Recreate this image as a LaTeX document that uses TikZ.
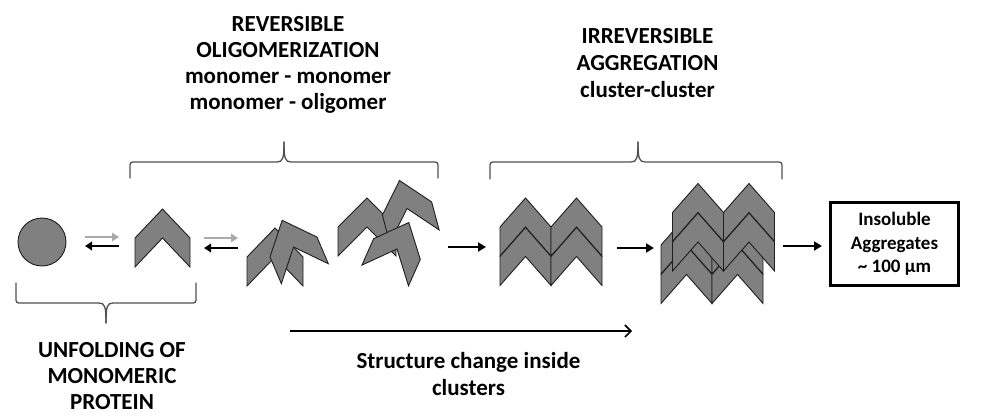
\documentclass[tikz,border=0pt]{standalone}
\usepackage{fontspec}
\setmainfont{Carlito}
\usetikzlibrary{arrows.meta}
\definecolor{shapegray}{RGB}{128,128,128}
\definecolor{edgegray}{RGB}{30,30,30}
\definecolor{bracegray}{RGB}{80,80,80}
\definecolor{lightarrow}{RGB}{170,170,170}
\newcommand\mychev[4]{\filldraw[chevbox, shift={(#1,#2)}, rotate=#3] (-#4,0) -- (0,-29) -- (#4,0) -- (#4,29) -- (0,0) -- (-#4,29) -- cycle;}
\begin{document}
\begin{tikzpicture}[x=1pt,y=-1pt,
  chevbox/.style={fill=shapegray, draw=edgegray, line width=0.9pt, line join=miter},
  bracestyle/.style={draw=bracegray, line width=1.3pt, line cap=round, line join=round},
  fwd/.style={line width=2.6pt, -{Triangle[length=8pt,width=9pt]}},
  eqfwd/.style={line width=2.6pt, draw=lightarrow, -{Triangle[length=7pt,width=8.5pt]}},
  eqback/.style={line width=2.6pt, draw=black, -{Triangle[length=7pt,width=8.5pt]}},
  lbl/.style={font=\bfseries\fontsize{23}{26}\selectfont, align=center, inner sep=0pt},
  boxlbl/.style={font=\bfseries\fontsize{19}{23.5}\selectfont, align=center, draw=black, line width=3pt, minimum width=128pt, minimum height=83pt, inner sep=0pt}]
\useasboundingbox (0,0) rectangle (992,415);

% monomer
\filldraw[chevbox] (42,242) circle[radius=24];
% unfolded monomer
\mychev{162.5}{238}{0}{27.5}
% oligomer 1
\mychev{275}{257}{0}{28}
\mychev{293.5}{247}{23}{25.5}
% oligomer 2
\mychev{367}{227}{0}{29}
\mychev{407}{208.5}{15}{25.5}
\mychev{397}{249}{-24}{25.5}
% cluster
\mychev{525.5}{227}{0}{25.5}
\mychev{576.5}{227}{0}{25.5}
\mychev{525.5}{256.5}{0}{25.5}
\mychev{576.5}{256.5}{0}{25.5}
% big cluster, back layer
\mychev{686.5}{245}{0}{25.5}
\mychev{737.5}{245}{0}{25.5}
\mychev{686.5}{274.5}{0}{25.5}
\mychev{737.5}{274.5}{0}{25.5}
% big cluster, front layer
\mychev{698}{212.5}{0}{25.5}
\mychev{749}{212.5}{0}{25.5}
\mychev{698}{242}{0}{25.5}
\mychev{749}{242}{0}{25.5}

% equilibrium arrows
\coordinate (e1a) at (85,237);  \coordinate (e1b) at (119,237);
\coordinate (e1c) at (119,246); \coordinate (e1d) at (85,246);
\coordinate (e2a) at (204,238); \coordinate (e2b) at (238,238);
\coordinate (e2c) at (238,248); \coordinate (e2d) at (204,248);
\draw[eqfwd] (e1a) -- (e1b);
\draw[eqback] (e1c) -- (e1d);
\draw[eqfwd] (e2a) -- (e2b);
\draw[eqback] (e2c) -- (e2d);

% forward arrows
\coordinate (f1a) at (448,247); \coordinate (f1b) at (486,247);
\coordinate (f2a) at (617,248); \coordinate (f2b) at (654,248);
\coordinate (f3a) at (783,246);
\node[boxlbl] (box) at (894.5,244) {Insoluble\\Aggregates\\\textasciitilde{} 100 µm};
\draw[fwd] (f1a) -- (f1b);
\draw[fwd] (f2a) -- (f2b);
\draw[fwd] (f3a) -- ([xshift=-7pt]box.west |- f3a);

% long arrow
\coordinate (la) at (290,331); \coordinate (lb) at (632,331);
\draw[line width=1.6pt, -{Straight Barb[length=6pt,width=12pt]}] (la) -- (lb);

% braces
\draw[bracestyle] (130,178) -- (130,168) .. controls (130,162) .. (136,162) -- (277,162) .. controls (283,162) and (284,158) .. (284,142);
\draw[bracestyle] (438,178) -- (438,168) .. controls (438,162) .. (432,162) -- (291,162) .. controls (285,162) and (284,158) .. (284,142);
\draw[bracestyle] (490,179) -- (490,168) .. controls (490,162) .. (496,162) -- (631,162) .. controls (637,162) and (638,158) .. (638,142);
\draw[bracestyle] (782,179) -- (782,168) .. controls (782,162) .. (776,162) -- (645,162) .. controls (639,162) and (638,158) .. (638,142);
\draw[bracestyle] (16,283) -- (16,297) .. controls (16,303) .. (22,303) -- (99,303) .. controls (105,303) and (106,307) .. (106,323);
\draw[bracestyle] (196,283) -- (196,297) .. controls (196,303) .. (190,303) -- (113,303) .. controls (107,303) and (106,307) .. (106,323);

% labels (base = baseline of the last line)
\node[lbl, anchor=base] (rev) at (288,109) {REVERSIBLE\\OLIGOMERIZATION\\monomer - monomer\\monomer - oligomer};
\node[lbl, anchor=base, font=\bfseries\fontsize{23}{27}\selectfont] (irr) at (647.5,97) {IRREVERSIBLE\\AGGREGATION\\cluster-cluster};
\node[lbl, anchor=base] (unf) at (112,409) {UNFOLDING OF\\MONOMERIC\\PROTEIN};
\node[lbl, anchor=base, font=\bfseries\fontsize{23}{27}\selectfont] (str) at (468.5,395) {Structure change inside\\clusters};
\end{tikzpicture}
\end{document}
